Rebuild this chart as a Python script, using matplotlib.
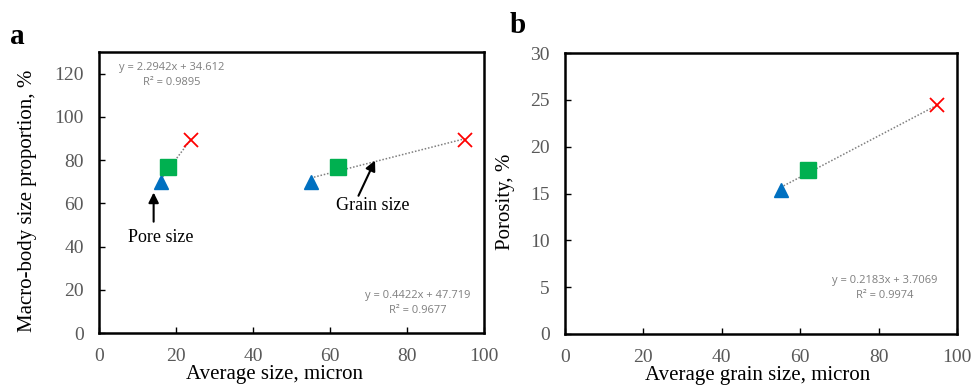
import numpy as np
import matplotlib
matplotlib.use("Agg")
import matplotlib.pyplot as plt

# datos
porosidad_prop = [70, 77, 89.5]       # Macro-body size proportion, %
tam_poro = [16, 18, 24]               # pore size, micron
tam_grano = [55, 62, 95]              # grain size, micron
porosidad = [15.4, 17.5, 24.4]        # porosity, %

marcadores = ['^', 's', 'x']
colores = ['#0070C0', '#00B050', '#FF0000']
tamanos = [10, 11.3, 10.5]

eq_a1 = "y = 2.2942x + 34.612\nR² = 0.9895"
eq_a2 = "y = 0.4422x + 47.719\nR² = 0.9677"
eq_b = "y = 0.2183x + 3.7069\nR² = 0.9974"

plt.rcParams['font.family'] = ['Liberation Serif', 'DejaVu Serif']
gris_tick = '#595959'
gris_eq = '#7F7F7F'

fig = plt.figure(figsize=(9.74, 3.87), dpi=100)
ax1 = fig.add_axes([0.1016, 0.1395, 0.3953, 0.7261])
ax2 = fig.add_axes([0.5801, 0.1370, 0.4025, 0.7260])


def Tendencia(ax, x, y):
    coef = np.polyfit(x, y, 1)
    xx = np.array([min(x), max(x)])
    ax.plot(xx, np.polyval(coef, xx), color=gris_eq, lw=1.1, ls=(0, (1, 1.2)), zorder=1)


def Puntos(ax, x, y):
    for xi, yi, m, c, s in zip(x, y, marcadores, colores, tamanos):
        if m == 'x':
            ax.plot(xi, yi, m, color=c, ms=s, mew=1.3, zorder=3)
        else:
            ax.plot(xi, yi, m, color=c, ms=s, mec=c, zorder=3)


def Estilo(ax):
    for s in ax.spines.values():
        s.set_linewidth(1.8)
        s.set_color('black')
    ax.tick_params(direction='in', length=4.5, width=1, pad=11,
                   labelsize=14, labelcolor=gris_tick, color='black')


flecha = dict(arrowstyle='-|>', color='black', lw=1.5, mutation_scale=15,
              shrinkA=0, shrinkB=0)

# panel a
Tendencia(ax1, tam_poro, porosidad_prop)
Tendencia(ax1, tam_grano, porosidad_prop)
Puntos(ax1, tam_poro, porosidad_prop)
Puntos(ax1, tam_grano, porosidad_prop)
ax1.set_xlim(0, 100)
ax1.set_ylim(0, 130)
ax1.set_xticks(range(0, 101, 20))
ax1.set_yticks(range(0, 121, 20))
Estilo(ax1)
ax1.set_xlabel('Average size, micron', fontsize=15)
ax1.set_ylabel('Macro-body size proportion, %', fontsize=15)
ax1.xaxis.set_label_coords(0.455, -0.115)
ax1.yaxis.set_label_coords(-0.16, 0.47)
ax1.text(18.8, 119.5, eq_a1, family='Open Sans', fontsize=8, color=gris_eq,
         ha='center', va='center', linespacing=1.5)
ax1.text(82.7, 13.8, eq_a2, family='Open Sans', fontsize=8, color=gris_eq,
         ha='center', va='center', linespacing=1.5)
ax1.annotate('', xy=(14.2, 65), xytext=(14.2, 51.5), arrowprops=flecha)
ax1.text(16, 44, 'Pore size', fontsize=13, ha='center', va='center')
ax1.annotate('', xy=(71.7, 79.8), xytext=(67.4, 63.5), arrowprops=flecha)
ax1.text(71.2, 59, 'Grain size', fontsize=13, ha='center', va='center')

# panel b
Tendencia(ax2, tam_grano, porosidad)
Puntos(ax2, tam_grano, porosidad)
ax2.set_xlim(0, 100)
ax2.set_ylim(0, 30)
ax2.set_xticks(range(0, 101, 20))
ax2.set_yticks(range(0, 31, 5))
Estilo(ax2)
ax2.set_xlabel('Average grain size, micron', fontsize=15)
ax2.set_ylabel('Porosity, %', fontsize=15)
ax2.xaxis.set_label_coords(0.492, -0.115)
ax2.yaxis.set_label_coords(-0.128, 0.47)
ax2.text(81.6, 4.9, eq_b, family='Open Sans', fontsize=8, color=gris_eq,
         ha='center', va='center', linespacing=1.5)

fig.text(0.0103, 0.886, 'a', fontsize=21, fontweight='bold')
fig.text(0.5236, 0.915, 'b', fontsize=21, fontweight='bold')

fig.savefig('out.png', dpi=100)
